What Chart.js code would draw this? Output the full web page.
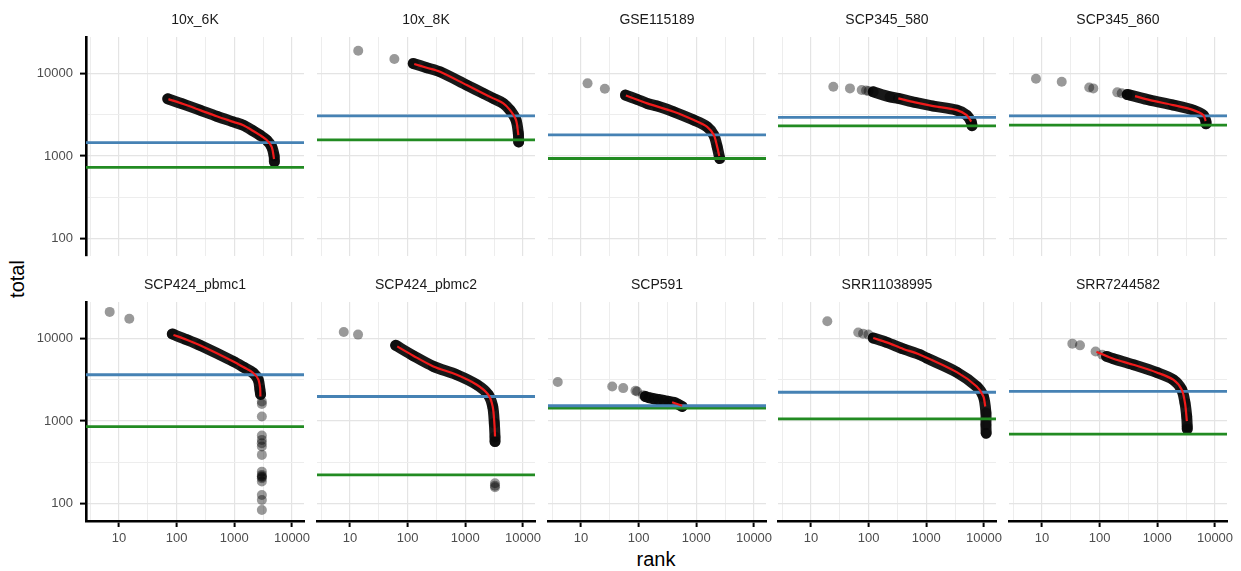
<!DOCTYPE html>
<html><head><meta charset="utf-8">
<script src="https://cdn.jsdelivr.net/npm/chart.js@4.4.1/dist/chart.umd.min.js"></script>
<style>
html,body{margin:0;padding:0;background:#fff;}
body{width:1241px;height:571px;position:relative;overflow:hidden;font-family:"Liberation Sans",Arial,Helvetica,sans-serif;}
canvas{position:absolute;}
.axt{position:absolute;color:#000;font-size:20px;white-space:nowrap;line-height:1;}
#ylab{left:17px;top:279px;transform:translate(-50%,-50%) rotate(-90deg);}
#xlab{left:656px;top:559px;transform:translate(-50%,-50%);}
</style></head><body>
<div class="axt" id="ylab">total</div>
<div class="axt" id="xlab">rank</div>
<script>
// ---------- data (rank, total) ----------
const panelNames = ['10x_6K','10x_8K','GSE115189','SCP345_580','SCP345_860','SCP424_pbmc1','SCP424_pbmc2','SCP591','SRR11038995','SRR7244582'];
const kneeTotal = [1450, 3060, 1800, 2930, 3060, 3630, 1980, 1530, 2230, 2280];
const inflectionTotal = [730, 1570, 933, 2320, 2360, 857, 223, 1430, 1060, 693];
const rankTicks = [10, 100, 1000, 10000];
const rankMinorTicks = [3.162, 31.62, 316.2, 3162];
const totalTicks = [100, 1000, 10000];
const totalMinorTicks = [316.2, 3162];
const rankRange = [2.68, 16140];
const totalRange = [61.7, 27540];

const out_10x_6K = [];
const cells_10x_6K = [[70,4920],[130,4250],[254,3590],[494,3030],[960,2590],[1430,2360],[2130,2010],[2780,1790],[3640,1560],[4450,1290],[4900,1000],[4950,850]];
const fit_10x_6K = [[72,4880],[130,4250],[254,3590],[494,3030],[960,2590],[1430,2360],[2130,2010],[2780,1790],[3640,1560],[4450,1290],[4880,920]];

const out_10x_8K = [[13.9,18800],[58.8,14900]];
const cells_10x_8K = [[125,13200],[214,11700],[364,10450],[1057,7210],[2050,5720],[3055,4980],[4560,4330],[5960,3590],[7570,2720],[8300,1875],[8400,1480]];
const fit_10x_8K = [[130,13000],[214,11700],[364,10450],[1057,7210],[2050,5720],[3055,4980],[4560,4330],[5960,3590],[7570,2720],[8300,1790]];

const out_GSE115189 = [[13,7570],[25.9,6500]];
const cells_GSE115189 = [[59,5460],[94,4840],[141,4330],[210,4020],[406,3430],[904,2720],[1540,2250],[2010,1790],[2300,1290],[2550,933]];
const fit_GSE115189 = [[60,5400],[141,4330],[406,3430],[904,2720],[1540,2250],[2010,1790],[2300,1290],[2500,1000]];

const out_SCP345_580 = [[24.4,6890],[47.4,6580],[75.7,6280],[90,6200],[100,6100]];
const cells_SCP345_580 = [[120,5980],[234,5200],[327,4980],[637,4450],[1320,4020],[3370,3590],[5010,3120],[6000,2600],[6200,2330]];
const fit_SCP345_580 = [[327,4980],[637,4450],[1320,4020],[3370,3590],[5010,3120],[6000,2600]];

const out_SCP345_860 = [[7.87,8600],[22,7910],[66,6760],[77.6,6580],[202,5890],[241,5730]];
const cells_SCP345_860 = [[300,5550],[336,5460],[746,4740],[1890,4130],[4210,3590],[6270,3120],[6980,2590],[7000,2450]];
const fit_SCP345_860 = [[410,5310],[746,4740],[1890,4130],[4210,3590],[6270,3120],[6900,2650]];

const out_SCP424_pbmc1 = [[6.9,20900],[15.1,17300],[3000,1720],[3000,1610],[3000,1135],[3000,667],[3000,591],[3000,491],[3000,389],[3000,244],[3000,223],[3000,203],[3000,185],[3000,127],[3000,111],[3000,84],[2990,540],[3010,210],[2990,215]];
const cells_SCP424_pbmc1 = [[84,11300],[149,9640],[254,8230],[960,5260],[1430,4500],[2130,3810],[2600,3160],[2780,2390],[2850,2100]];
const fit_SCP424_pbmc1 = [[88,11000],[149,9640],[254,8230],[960,5260],[1430,4500],[2130,3810],[2600,3200],[2800,2500],[2830,1980]];

const out_SCP424_pbmc2 = [[7.8,11960],[13.8,11100],[3270,177],[3270,158],[3260,165]];
const cells_SCP424_pbmc2 = [[62,8230],[125,6170],[279,4580],[710,3630],[1580,2750],[2500,2080],[2980,1500],[3180,944],[3270,640],[3270,565]];
const fit_SCP424_pbmc2 = [[66,8000],[125,6170],[279,4580],[710,3630],[1580,2750],[2500,2080],[2980,1500],[3200,900],[3270,650]];

const out_SCP591 = [[3.96,2970],[34.8,2620],[54,2500],[88,2320],[94,2280],[120,2050]];
const cells_SCP591 = [[131,1980],[150,1920],[183,1860],[220,1820],[273,1770],[330,1730],[406,1680],[480,1600],[569,1500]];
const fit_SCP591 = [[380,1690],[569,1530]];

const out_SRR11038995 = [[19.2,16100],[66,11800],[80,11400],[99,11100]];
const cells_SRR11038995 = [[120,10100],[205,8950],[399,7450],[776,6340],[1014,5780],[3370,3900],[7480,2620],[9770,1980],[10800,1250],[10800,900],[10900,713]];
const fit_SRR11038995 = [[120,10100],[205,8950],[399,7450],[776,6340],[3370,3900],[7480,2620],[9770,1980],[10500,1500]];

const out_SRR7244582 = [[33.6,8630],[45.6,8230],[85,6950],[111,6340]];
const cells_SRR7244582 = [[132,6050],[173,5670],[384,4800],[975,3870],[1890,3160],[2650,2390],[3020,1650],[3230,1135],[3300,857],[3300,800]];
const fit_SRR7244582 = [[88,6900],[173,5670],[384,4800],[975,3870],[1890,3160],[2650,2390],[3020,1650],[3250,1000]];

const outliers = [out_10x_6K,out_10x_8K,out_GSE115189,out_SCP345_580,out_SCP345_860,out_SCP424_pbmc1,out_SCP424_pbmc2,out_SCP591,out_SRR11038995,out_SRR7244582];
const cells = [cells_10x_6K,cells_10x_8K,cells_GSE115189,cells_SCP345_580,cells_SCP345_860,cells_SCP424_pbmc1,cells_SCP424_pbmc2,cells_SCP591,cells_SRR11038995,cells_SRR7244582];
const fits = [fit_10x_6K,fit_10x_8K,fit_GSE115189,fit_SCP345_580,fit_SCP345_860,fit_SCP424_pbmc1,fit_SCP424_pbmc2,fit_SCP591,fit_SRR11038995,fit_SRR7244582];

// ---------- layout & style ----------
const FONT = '"Liberation Sans", Arial, Helvetica, sans-serif';
const colLeft = [86, 317, 548, 778, 1009];
const rowTop = [37, 302];
const PW = 218, PH = 219;
const YAXW = 70, TITLEH = 30, XAXH = 32, RPAD = 26;
const CW = YAXW + PW + RPAD, CH = TITLEH + PH + XAXH;
const GRID_MAJOR = '#e4e4e4', GRID_MINOR = '#ededed';
const RED = '#f01a1a', BLUE = '#4682b4', GREEN = '#228b22';
const PT = 'rgba(0,0,0,0.4)';

function tickList(minor, major) {
  return minor.map(v => ({value: v, major: false}))
    .concat(major.map(v => ({value: v, major: true})))
    .sort((a, b) => a.value - b.value);
}
const toPts = arr => arr.map(p => ({x: p[0], y: p[1]}));

panelNames.forEach((name, i) => {
  const col = i % 5, row = Math.floor(i / 5);
  const showY = col === 0, showX = row === 1;
  const cv = document.createElement('canvas');
  cv.width = CW; cv.height = CH;
  cv.style.width = CW + 'px'; cv.style.height = CH + 'px';
  cv.style.left = (colLeft[col] - YAXW) + 'px';
  cv.style.top = (rowTop[row] - TITLEH) + 'px';
  document.body.appendChild(cv);

  new Chart(cv, {
    type: 'scatter',
    data: {datasets: [
      {data: toPts(fits[i]), showLine: true, borderColor: RED, borderWidth: 2.2, pointRadius: 0, tension: 0.3, order: 0},
      {data: [{x: rankRange[0], y: kneeTotal[i]}, {x: rankRange[1], y: kneeTotal[i]}], showLine: true, borderColor: BLUE, borderWidth: 2.8, pointRadius: 0, order: 1},
      {data: [{x: rankRange[0], y: inflectionTotal[i]}, {x: rankRange[1], y: inflectionTotal[i]}], showLine: true, borderColor: GREEN, borderWidth: 2.8, pointRadius: 0, order: 1},
      {data: toPts(cells[i]), showLine: true, borderColor: 'rgba(0,0,0,0.9)', borderWidth: 11, borderCapStyle: 'round', borderJoinStyle: 'round', tension: 0.3,
       pointRadius: 5.5, pointBackgroundColor: PT, pointBorderWidth: 0, order: 2},
      {data: toPts(outliers[i]), showLine: false, pointRadius: 5, pointBackgroundColor: PT, pointBorderWidth: 0, order: 3}
    ]},
    options: {
      responsive: false, animation: false, devicePixelRatio: 1, events: [],
      layout: {padding: {left: 0, right: RPAD, top: 0, bottom: 0}},
      plugins: {
        legend: {display: false}, tooltip: {enabled: false},
        title: {display: true, fullSize: false, text: name, color: '#1a1a1a', font: {family: FONT, size: 14, weight: 'normal', lineHeight: '16px'}, padding: {top: 5, bottom: 9}}
      },
      scales: {
        x: {
          type: 'logarithmic', position: 'bottom', min: rankRange[0], max: rankRange[1],
          afterBuildTicks: s => { s.ticks = tickList(rankMinorTicks, rankTicks); },
          afterFit: s => { s.height = XAXH; s.paddingLeft = 0; s.paddingRight = 0; s.paddingTop = 0; s.paddingBottom = 0; },
          ticks: {display: showX, autoSkip: false, maxRotation: 0, minRotation: 0, padding: 4, color: '#4d4d4d', font: {family: FONT, size: 13},
                  callback: (v, idx, ticks) => ticks[idx] && ticks[idx].major ? String(v) : ''},
          grid: {color: c => c.tick && c.tick.major ? GRID_MAJOR : GRID_MINOR, lineWidth: c => c.tick && c.tick.major ? 1.2 : 1,
                 drawTicks: true, tickLength: 6, tickWidth: 2,
                 tickColor: c => (showX && c.tick && c.tick.major) ? '#000' : 'rgba(0,0,0,0)'},
          border: {display: showX, color: '#000', width: 2.6}
        },
        y: {
          type: 'logarithmic', position: 'left', min: totalRange[0], max: totalRange[1],
          afterBuildTicks: s => { s.ticks = tickList(totalMinorTicks, totalTicks); },
          afterFit: s => { s.width = YAXW; s.paddingLeft = 0; s.paddingRight = 0; s.paddingTop = 0; s.paddingBottom = 0; },
          ticks: {display: showY, autoSkip: false, padding: 7, color: '#4d4d4d', font: {family: FONT, size: 13},
                  callback: (v, idx, ticks) => ticks[idx] && ticks[idx].major ? String(v) : ''},
          grid: {color: c => c.tick && c.tick.major ? GRID_MAJOR : GRID_MINOR, lineWidth: c => c.tick && c.tick.major ? 1.2 : 1,
                 drawTicks: true, tickLength: 6, tickWidth: 2,
                 tickColor: c => (showY && c.tick && c.tick.major) ? '#000' : 'rgba(0,0,0,0)'},
          border: {display: showY, color: '#000', width: 2.6}
        }
      }
    }
  });
});
</script>
</body></html>
